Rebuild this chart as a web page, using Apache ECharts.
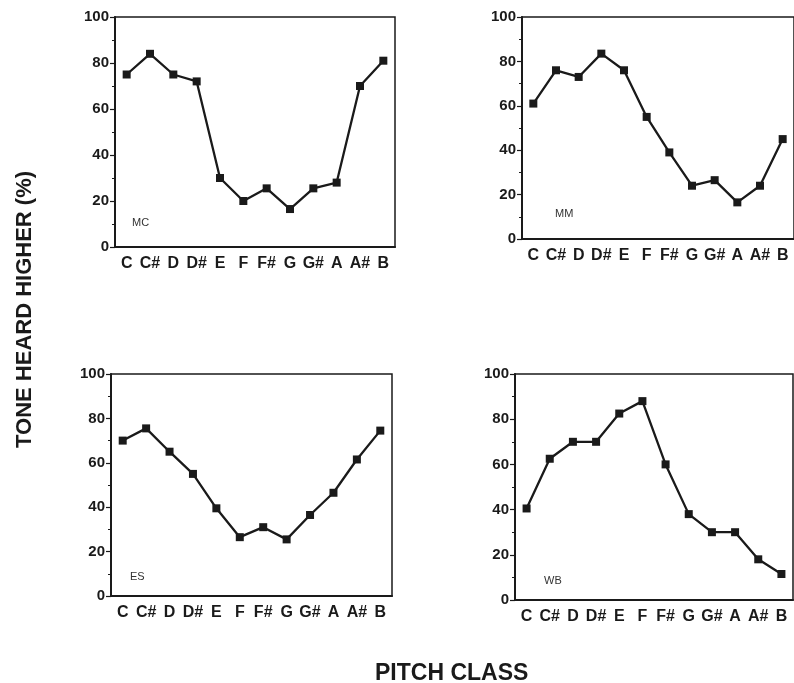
<!DOCTYPE html>
<html>
<head>
<meta charset="utf-8">
<style>
  html, body { margin: 0; padding: 0; background: #fff; }
  #chart { width: 794px; height: 683px; }
</style>
<script src="https://cdn.jsdelivr.net/npm/echarts@6/dist/echarts.min.js"></script>
</head>
<body>
<div id="chart"></div>
<script>
  const PITCHES = ["C", "C#", "D", "D#", "E", "F", "F#", "G", "G#", "A", "A#", "B"];

  const MC = [75, 84, 75, 72, 30, 20, 25.5, 16.5, 25.5, 28, 70, 81];
  const MM = [61, 76, 73, 83.5, 76, 55, 39, 24, 26.5, 16.5, 24, 45];
  const ES = [70, 75.5, 65, 55, 39.5, 26.5, 31, 25.5, 36.5, 46.5, 61.5, 74.5];
  const WB = [40.5, 62.5, 70, 70, 82.5, 88, 60, 38, 30, 30, 18, 11.5];

  const Y_TICKS = [0, 20, 40, 60, 80, 100];

  const PANELS = [
    { name: "MC", data: MC, grid: { left: 115, top: 17, width: 280, height: 230 }, label: [132, 217] },
    { name: "MM", data: MM, grid: { left: 522, top: 17, width: 278, height: 222 }, label: [555, 208] },
    { name: "ES", data: ES, grid: { left: 111, top: 374, width: 281, height: 222 }, label: [130, 571] },
    { name: "WB", data: WB, grid: { left: 515, top: 374, width: 278, height: 226 }, label: [544, 575] },
  ];

  const INK = "#1a1a1a";
  const FONT = "'Liberation Sans', Arial, sans-serif";

  function buildOption() {
    const grid = PANELS.map((p) => ({
      ...p.grid,
      show: true,
      borderColor: INK,
      borderWidth: 1.5,
      containLabel: false,
    }));

    const xAxis = PANELS.map((p, i) => ({
      type: "category",
      gridIndex: i,
      data: PITCHES,
      boundaryGap: true,
      axisLine: { lineStyle: { color: INK, width: 2 } },
      axisTick: { alignWithLabel: true, length: 5, lineStyle: { color: INK, width: 1.2 } },
      axisLabel: {
        interval: 0,
        color: INK,
        fontFamily: FONT,
        fontWeight: "bold",
        fontSize: 16,
        margin: 9,
      },
      splitLine: { show: false },
    }));

    const yAxis = PANELS.map((p, i) => ({
      type: "value",
      gridIndex: i,
      min: Y_TICKS[0],
      max: Y_TICKS[Y_TICKS.length - 1],
      interval: 20,
      axisLine: { show: true, lineStyle: { color: INK, width: 2 } },
      axisTick: { show: true, length: 5, lineStyle: { color: INK, width: 1.2 } },
      minorTick: { show: true, splitNumber: 2, length: 3, lineStyle: { color: INK, width: 1 } },
      axisLabel: {
        color: INK,
        fontFamily: FONT,
        fontWeight: "bold",
        fontSize: 15,
        margin: 6,
      },
      splitLine: { show: false },
    }));

    const series = PANELS.map((p, i) => ({
      name: p.name,
      type: "line",
      xAxisIndex: i,
      yAxisIndex: i,
      data: p.data,
      symbol: "rect",
      symbolSize: 8,
      showSymbol: true,
      lineStyle: { color: INK, width: 2.3 },
      itemStyle: { color: INK },
      animation: false,
    }));

    const graphic = PANELS.map((p) => ({
      type: "text",
      left: p.label[0],
      top: p.label[1],
      style: { text: p.name, fill: "#333", font: `11px ${FONT}` },
    }));

    graphic.push({
      type: "text",
      left: 375,
      top: 662,
      style: { text: "PITCH CLASS", fill: INK, font: `bold 23px ${FONT}` },
    });
    graphic.push({
      type: "text",
      x: 14,
      y: 448,
      rotation: Math.PI / 2,
      style: { text: "TONE HEARD HIGHER (%)", fill: INK, font: `bold 22px ${FONT}` },
    });

    return {
      animation: false,
      backgroundColor: "#fff",
      grid,
      xAxis,
      yAxis,
      series,
      graphic,
    };
  }

  const chart = echarts.init(document.getElementById("chart"), null, { renderer: "canvas" });
  chart.setOption(buildOption());
</script>
</body>
</html>
